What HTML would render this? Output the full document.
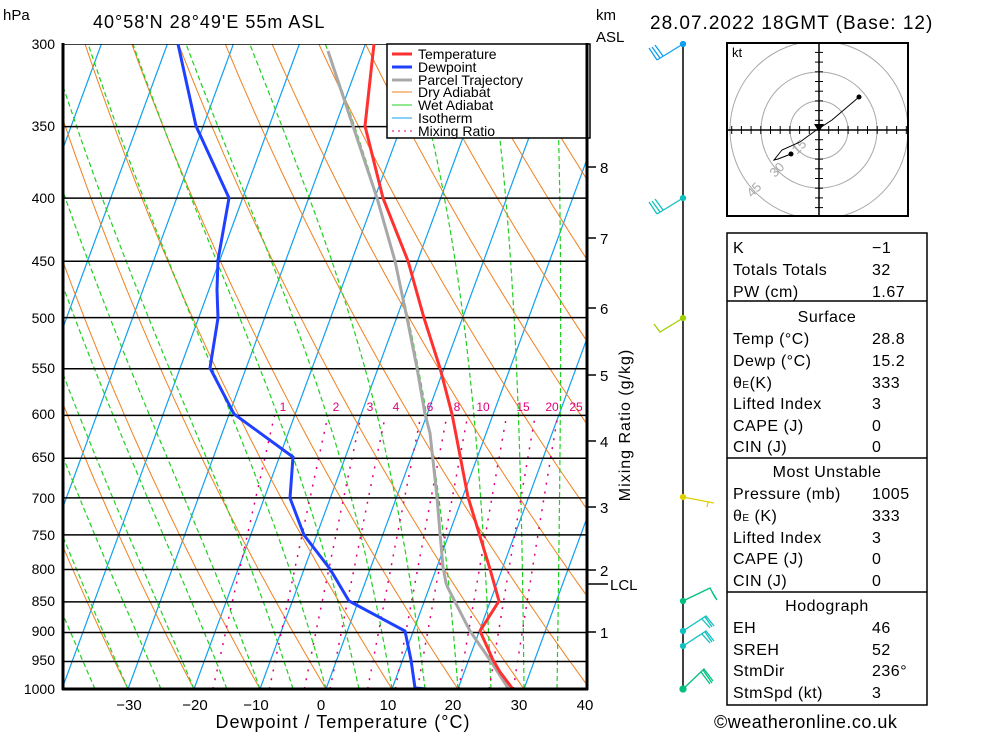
<!DOCTYPE html>
<html><head><meta charset="utf-8"><style>
body{margin:0;background:#fff;}
svg{display:block;font-family:"Liberation Sans",sans-serif;}
</style></head><body>
<svg id="s" width="1000" height="733" xmlns="http://www.w3.org/2000/svg">
<defs><clipPath id="c"><rect x="63" y="44" width="524" height="645"/></clipPath>
<clipPath id="hc"><rect x="728" y="44" width="179" height="171"/></clipPath></defs>
<rect width="1000" height="733" fill="#fff"/>
<g id="bg" clip-path="url(#c)"></g>
<g clip-path="url(#c)">
<polyline fill="none" stroke="#a8a8a8" stroke-width="3" points="508,688 490,660 470,631 448,588 446,583 443,567 440,533 437,497 430,433 425,414 417,368 407,318 395,261 377,198 353,126 328,51"/>
<polyline fill="none" stroke="#ff3030" stroke-width="3" points="512,688 500,672 493,660 480,631 499,601 490,569 468,497 452,414 440,368 424,318 408,261 383,198 365,126 374,44"/>
<polyline fill="none" stroke="#2040ff" stroke-width="3" points="427,689 415,688 411,660 405,631 349,601 330,569 304,535 290,498 293,457 234,414 210,368 218,318 217,290 218,260 229,198 196,126 178,44"/>
</g>
<!-- legend -->
<rect x="387" y="44" width="203" height="94" fill="#fff" stroke="#000" stroke-width="1.5"/>
<g font-size="14">
<line x1="392" y1="54" x2="412" y2="54" stroke="#ff3030" stroke-width="3"/><text x="418" y="59">Temperature</text>
<line x1="392" y1="67" x2="412" y2="67" stroke="#2040ff" stroke-width="3"/><text x="418" y="72">Dewpoint</text>
<line x1="392" y1="80" x2="412" y2="80" stroke="#a8a8a8" stroke-width="3"/><text x="418" y="85">Parcel Trajectory</text>
<line x1="392" y1="92" x2="412" y2="92" stroke="#f08020"/><text x="418" y="97">Dry Adiabat</text>
<line x1="392" y1="105" x2="412" y2="105" stroke="#20d020"/><text x="418" y="110">Wet Adiabat</text>
<line x1="392" y1="118" x2="412" y2="118" stroke="#10a0f0"/><text x="418" y="123">Isotherm</text>
<line x1="392" y1="131" x2="412" y2="131" stroke="#e0007a" stroke-dasharray="2,4"/><text x="418" y="136">Mixing Ratio</text>
</g>
<!-- frame -->
<line x1="63" y1="43" x2="63" y2="690" stroke="#000" stroke-width="3"/>
<line x1="62" y1="689" x2="588" y2="689" stroke="#000" stroke-width="3"/>
<line x1="587" y1="43" x2="587" y2="690" stroke="#000" stroke-width="3"/>
<g font-size="14" text-anchor="end">
<text x="55" y="49">300</text><text x="55" y="131">350</text><text x="55" y="203">400</text><text x="55" y="266">450</text><text x="55" y="323">500</text><text x="55" y="373">550</text><text x="55" y="419">600</text><text x="55" y="462">650</text><text x="55" y="503">700</text><text x="55" y="540">750</text><text x="55" y="574">800</text><text x="55" y="606">850</text><text x="55" y="636">900</text><text x="55" y="665">950</text><text x="55" y="694">1000</text>
</g>
<text x="3" y="20" font-size="15">hPa</text>
<text x="93" y="28" font-size="18" letter-spacing="1">40°58'N  28°49'E  55m  ASL</text>
<text x="596" y="20" font-size="15">km</text><text x="596" y="42" font-size="15">ASL</text>
<text x="650" y="29" font-size="19" letter-spacing="1">28.07.2022  18GMT  (Base: 12)</text>
<g font-size="15" text-anchor="middle">
<text x="129" y="710">−30</text><text x="195" y="710">−20</text><text x="256" y="710">−10</text><text x="321" y="710">0</text><text x="388" y="710">10</text><text x="453" y="710">20</text><text x="519" y="710">30</text><text x="585" y="710">40</text>
</g>
<text x="343" y="728" font-size="18" text-anchor="middle" letter-spacing="1">Dewpoint / Temperature (°C)</text>
<text x="714" y="728" font-size="18" letter-spacing="0.5">©weatheronline.co.uk</text>
<!-- km axis -->
<g stroke="#000" stroke-width="1.5">
<line x1="587" y1="167" x2="596" y2="167"/><line x1="587" y1="238" x2="596" y2="238"/><line x1="587" y1="308" x2="596" y2="308"/><line x1="587" y1="375" x2="596" y2="375"/><line x1="587" y1="441" x2="596" y2="441"/><line x1="587" y1="507" x2="596" y2="507"/><line x1="587" y1="570" x2="596" y2="570"/><line x1="587" y1="584" x2="608" y2="584"/><line x1="587" y1="632" x2="596" y2="632"/>
</g>
<g font-size="15"><text x="600" y="173">8</text><text x="600" y="244">7</text><text x="600" y="314">6</text><text x="600" y="381">5</text><text x="600" y="447">4</text><text x="600" y="513">3</text><text x="600" y="576">2</text><text x="610" y="590">LCL</text><text x="600" y="638">1</text></g>
<text transform="translate(630,425) rotate(-90)" font-size="16" text-anchor="middle" letter-spacing="1">Mixing Ratio (g/kg)</text>
<g font-size="12" fill="#e0007a" text-anchor="middle">
<text x="283" y="411">1</text><text x="336" y="411">2</text><text x="370" y="411">3</text><text x="396" y="411">4</text><text x="430" y="411">6</text><text x="457" y="411">8</text><text x="483" y="411">10</text><text x="523" y="411">15</text><text x="552" y="411">20</text><text x="576" y="411">25</text>
</g>
<!-- wind barbs -->
<line x1="683" y1="44" x2="683" y2="689" stroke="#000" stroke-width="1.5"/>
<g fill="none" stroke-width="1.3">
<g stroke="#10a0f0"><polyline points="683,44 657,60"/><line x1="657" y1="60" x2="649" y2="48"/><line x1="660" y1="58" x2="652" y2="47"/><line x1="663" y1="56" x2="655" y2="45"/><circle cx="683" cy="44" r="2.5" fill="#10a0f0"/></g>
<g stroke="#10c0c0"><polyline points="683,198 657,214"/><line x1="657" y1="214" x2="649" y2="202"/><line x1="660" y1="212" x2="652" y2="201"/><line x1="663" y1="210" x2="655" y2="199"/><circle cx="683" cy="198" r="2.5" fill="#10c0c0"/></g>
<g stroke="#a0d000"><polyline points="683,318 660,332 654,324"/><circle cx="683" cy="318" r="2.5" fill="#a0d000"/></g>
<g stroke="#e0d000"><polyline points="683,497 714,503"/><line x1="708" y1="502" x2="707" y2="507"/><circle cx="683" cy="497" r="2.5" fill="#e0d000"/></g>
<g stroke="#00c080"><polyline points="683,601 710,588 716,599"/><line x1="712" y1="592" x2="717" y2="600"/><circle cx="683" cy="601" r="2.5" fill="#00c080"/></g>
<g stroke="#10c0c0"><polyline points="683,631 706,616 714,626"/><line x1="702" y1="619" x2="710" y2="628"/><line x1="705" y1="617" x2="712" y2="627"/><circle cx="683" cy="631" r="2.5" fill="#10c0c0"/></g>
<g stroke="#10c0c0"><polyline points="683,646 706,631 714,641"/><line x1="702" y1="634" x2="710" y2="643"/><line x1="705" y1="632" x2="712" y2="642"/><circle cx="683" cy="646" r="2.5" fill="#10c0c0"/></g>
<g stroke="#00c080"><polyline points="683,689 704,669 713,681"/><line x1="701" y1="672" x2="710" y2="684"/><line x1="703" y1="670" x2="712" y2="683"/><circle cx="683" cy="689" r="3" fill="#00c080"/></g>
</g>
<!-- hodograph -->
<rect x="727" y="43" width="181" height="173" fill="#fff" stroke="#000" stroke-width="2"/>
<g clip-path="url(#hc)">
<g fill="none" stroke="#a8a8a8"><circle cx="819" cy="130" r="29"/><circle cx="819" cy="130" r="58"/><circle cx="819" cy="130" r="89"/></g>
<g stroke="#000"><line x1="728" y1="130" x2="907" y2="130" stroke-width="1.5"/><line x1="819" y1="44" x2="819" y2="215" stroke-width="1.5"/><g id="hticks"></g></g>
</g>
<rect x="727" y="43" width="181" height="173" fill="none" stroke="#000" stroke-width="2"/>
<text x="732" y="57" font-size="13">kt</text>
<g font-size="13" fill="#a8a8a8"><text transform="translate(797,155) rotate(-45)">15</text><text transform="translate(775,178) rotate(-45)">30</text><text transform="translate(752,198) rotate(-45)">45</text></g>
<polyline fill="none" stroke="#000" points="791,154 778,159 774,160 782,150 800,142 815,131 832,120 859,97"/>
<circle cx="859" cy="97" r="2.5"/><circle cx="791" cy="154" r="2.5"/><path d="M814,124 L824,124 L819,132Z"/>
<!-- table -->
<g fill="none" stroke="#000" stroke-width="1.5">
<rect x="727" y="233" width="200" height="472"/>
<line x1="727" y1="301" x2="927" y2="301"/><line x1="727" y1="458" x2="927" y2="458"/><line x1="727" y1="592" x2="927" y2="592"/>
</g>
<g font-size="16" letter-spacing="0.5">
<text x="733" y="253">K</text><text x="872" y="253">−1</text>
<text x="733" y="275">Totals Totals</text><text x="872" y="275">32</text>
<text x="733" y="297">PW (cm)</text><text x="872" y="297">1.67</text>
<text x="827" y="322" text-anchor="middle">Surface</text>
<text x="733" y="344">Temp (°C)</text><text x="872" y="344">28.8</text>
<text x="733" y="366">Dewp (°C)</text><text x="872" y="366">15.2</text>
<text x="733" y="388">θ<tspan font-size="10">E</tspan>(K)</text><text x="872" y="388">333</text>
<text x="733" y="409">Lifted Index</text><text x="872" y="409">3</text>
<text x="733" y="431">CAPE (J)</text><text x="872" y="431">0</text>
<text x="733" y="452">CIN (J)</text><text x="872" y="452">0</text>
<text x="827" y="477" text-anchor="middle">Most Unstable</text>
<text x="733" y="499">Pressure (mb)</text><text x="872" y="499">1005</text>
<text x="733" y="521">θ<tspan font-size="10">E</tspan> (K)</text><text x="872" y="521">333</text>
<text x="733" y="543">Lifted Index</text><text x="872" y="543">3</text>
<text x="733" y="564">CAPE (J)</text><text x="872" y="564">0</text>
<text x="733" y="586">CIN (J)</text><text x="872" y="586">0</text>
<text x="827" y="611" text-anchor="middle">Hodograph</text>
<text x="733" y="633">EH</text><text x="872" y="633">46</text>
<text x="733" y="655">SREH</text><text x="872" y="655">52</text>
<text x="733" y="676">StmDir</text><text x="872" y="676">236°</text>
<text x="733" y="698">StmSpd (kt)</text><text x="872" y="698">3</text>
</g>
<script>
(function(){
var NS="http://www.w3.org/2000/svg",bg=document.getElementById("bg");
function Y(p){return 44+645*Math.log(p/300)/Math.log(1000/300);}
function X(T,p){return 326+6.6*T+0.368*(689-Y(p));}
function add(par,tag,a){var e=document.createElementNS(NS,tag);for(var k in a)e.setAttribute(k,a[k]);par.appendChild(e);return e;}
function poly(pts,a){a.points=pts.map(function(q){return q[0].toFixed(1)+","+q[1].toFixed(1)}).join(" ");a.fill="none";add(bg,"polyline",a);}
var T,p,pts;
for(T=-130;T<=40;T+=10){poly([[X(T,1000),Y(1000)],[X(T,300),Y(300)]],{stroke:"#10a0f0","stroke-width":1.2});}
for(var th=-40;th<=220;th+=10){pts=[];for(p=1000;p>=300;p-=10){T=(th+273.15)*Math.pow(p/1000,0.286)-273.15;pts.push([X(T,p),Y(p)]);}poly(pts,{stroke:"#f08020","stroke-width":1});}
function es(Tc){return 6.112*Math.exp(17.67*Tc/(Tc+243.5));}
for(var T0=-35;T0<=45;T0+=5){pts=[];T=T0+273.15;for(p=1000;p>=300;p-=5){pts.push([X(T-273.15,p),Y(p)]);var e=es(T-273.15),rs=0.622*e/(p-e);var d=(287*T/(1005*p))*(1+2.5e6*rs/(287*T))/(1+2.5e6*2.5e6*rs*0.622/(1005*287*T*T));T-=d*5;}
poly(pts,{stroke:"#20d020","stroke-width":1.2,"stroke-dasharray":"5,3"});}
[1,2,3,4,6,8,10,15,20,25].forEach(function(w){pts=[];for(p=1000;p>=600;p-=10){var e=w*p/(622+w),l=Math.log(e/6.112);T=243.5*l/(17.67-l);pts.push([X(T,p),Y(p)]);}poly(pts,{stroke:"#e0007a","stroke-width":1.5,"stroke-dasharray":"2,7"});});
for(p=300;p<=1000;p+=50){add(bg,"line",{x1:63,x2:587,y1:Y(p),y2:Y(p),stroke:"#000","stroke-width":1.5});}
var ht=document.getElementById("hticks");
for(var i=-9;i<=9;i++){if(!i)continue;add(ht,"line",{x1:819+i*9.7,x2:819+i*9.7,y1:126,y2:134});add(ht,"line",{y1:130+i*9.7,y2:130+i*9.7,x1:815,x2:823});}
})();
</script>
</svg>
</body></html>
